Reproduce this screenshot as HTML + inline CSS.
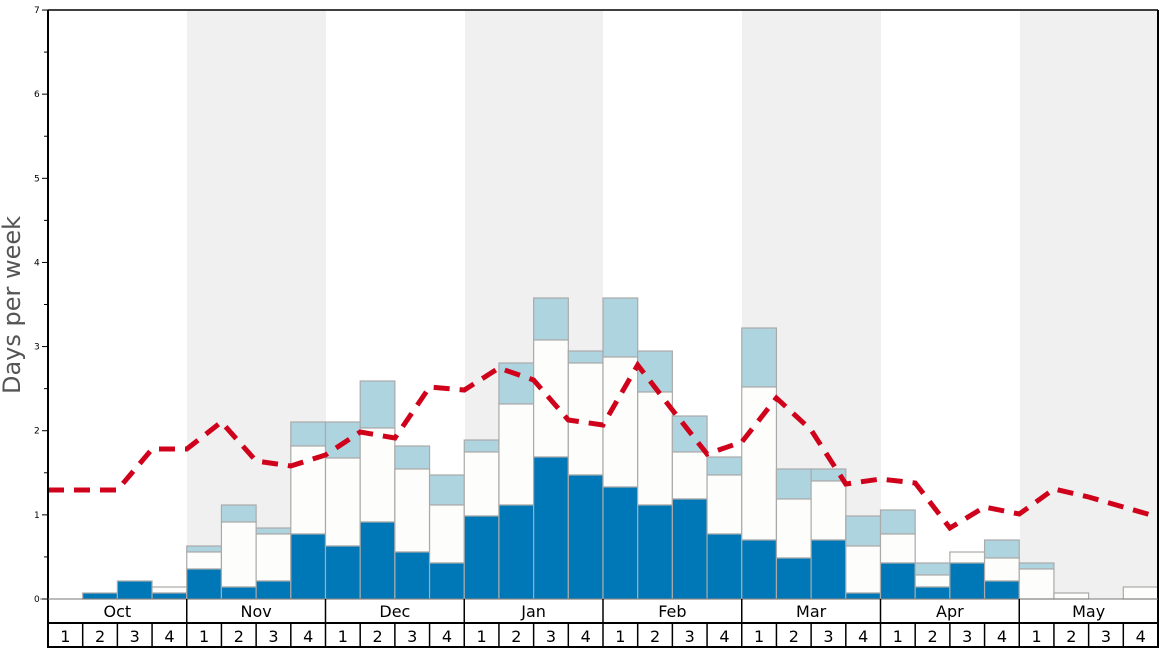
<!DOCTYPE html>
<html><head><meta charset="utf-8"><style>
body{margin:0;background:#fff;}
svg{display:block;font-family:"DejaVu Sans","Liberation Sans",sans-serif;}
</style></head><body>
<svg width="1168" height="648" viewBox="0 0 1168 648" xmlns="http://www.w3.org/2000/svg">
<rect x="0" y="0" width="1168" height="648" fill="#fff"/>
<!-- shaded months -->
<rect x="187" y="10" width="139" height="589" fill="#f0f0f0"/>
<rect x="465" y="10" width="138" height="589" fill="#f0f0f0"/>
<rect x="742" y="10" width="139" height="589" fill="#f0f0f0"/>
<rect x="1020" y="10" width="138" height="589" fill="#f0f0f0"/>
<g id="bars" stroke="#aaa" stroke-width="1.2"></g>
<polyline id="line" fill="none" stroke="#d0021b" stroke-width="5" stroke-dasharray="16,10"/>
<!-- frame -->
<line x1="48" y1="10" x2="1158" y2="10" stroke="#000" stroke-width="1.5"/>
<line x1="48" y1="10" x2="48" y2="648" stroke="#000" stroke-width="2"/>
<line x1="1158" y1="10" x2="1158" y2="648" stroke="#000" stroke-width="2"/>
<line x1="40" y1="599" x2="1158" y2="599" stroke="#777" stroke-width="1"/>
<line x1="48" y1="623" x2="1158" y2="623" stroke="#000" stroke-width="2"/>
<line x1="48" y1="647" x2="1158" y2="647" stroke="#000" stroke-width="2"/>
<g id="axis" font-size="9" fill="#000"></g>
<g id="xl" font-size="16" fill="#000" text-anchor="middle"></g>
<text transform="translate(20,305) rotate(-90)" text-anchor="middle" font-size="24" fill="#555">Days per week</text>
</svg>
<script>
var ns="http://www.w3.org/2000/svg";
function el(t,a,p,txt){var e=document.createElementNS(ns,t);for(var k in a)e.setAttribute(k,a[k]);if(txt!=null)e.textContent=txt;p.appendChild(e);return e;}
var W=34.6875,X0=48,B=599;
// [dark top, white top, light top]
var d=[[599,599,599],[593,593,593],[581,581,581],[593,587,587],[569,552,546],[587,522,505],[581,534,528],[534,446,422],
[546,458,422],[522,428,381],[552,469,446],[563,505,475],[516,452,440],[505,404,363],[457,340,298],[475,363,351],
[487,357,298],[505,392,351],[499,452,416],[534,475,457],[540,387,328],[558,499,469],[540,481,469],[593,546,516],
[563,534,510],[587,575,563],[563,552,552],[581,558,540],[599,569,563],[599,593,593],[599,599,599],[599,587,587]];
var g=document.getElementById("bars");
d.forEach(function(v,i){var x=X0+W*i;
 if(v[2]<v[1])el("rect",{x:x,y:v[2],width:W,height:v[1]-v[2],fill:"#aed4e0"},g);
 if(v[1]<v[0])el("rect",{x:x,y:v[1],width:W,height:v[0]-v[1],fill:"#fdfdfb"},g);
 if(v[0]<B)el("rect",{x:x,y:v[0],width:W,height:B-v[0],fill:"#0077b6"},g);
});
var ly=[490,490,490,449,449,422,461,466,455,432,438,387,390,368,380,420,425,365,410,454,442,398,430,484,479,483,528,507,514,489,497,507,517];
var pts=ly.map(function(y,i){return (X0+W*i).toFixed(1)+","+y}).join(" ");
document.getElementById("line").setAttribute("points",pts);
var a=document.getElementById("axis");
for(var k=0;k<=7;k++){var y=B-84.14*k;el("text",{x:34,y:y+3},a,String(k));el("line",{x1:42,y1:y,x2:48,y2:y,stroke:"#000"},a);
 if(k<7){var y2=y-42.07;el("line",{x1:44,y1:y2,x2:48,y2:y2,stroke:"#000"},a);}}
var xl=document.getElementById("xl");
var m=["Oct","Nov","Dec","Jan","Feb","Mar","Apr","May"];
m.forEach(function(n,j){var x=X0+W*4*j;el("text",{x:x+W*2,y:617},xl,n);
 el("line",{x1:x,y1:599,x2:x,y2:623,stroke:"#000","stroke-width":j?1.5:0},xl);
 for(var w=0;w<4;w++){var xx=x+W*w;el("text",{x:xx+W/2,y:642},xl,String(w+1));el("line",{x1:xx,y1:623,x2:xx,y2:647,stroke:"#000","stroke-width":1.5},xl);}
});
</script>
</body></html>
